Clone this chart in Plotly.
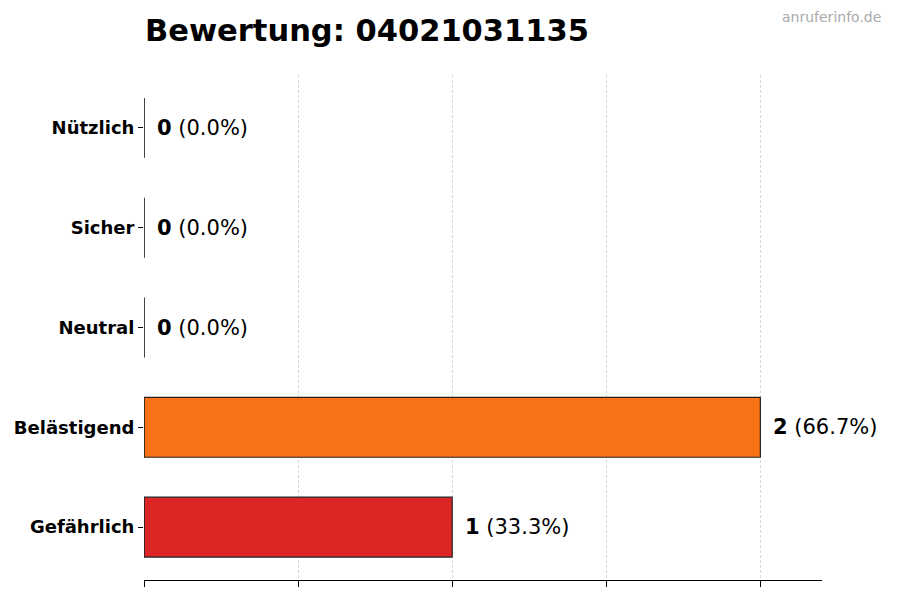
import plotly.graph_objects as go

# Daten
kategorien = ["Gefährlich", "Belästigend", "Neutral", "Sicher", "Nützlich"]
werte = [1, 2, 0, 0, 0]
farben = ["#DC2626", "#F97316", "#6B7280", "#22C55E", "#3B82F6"]
titel = "Bewertung: 04021031135"
quelle = "anruferinfo.de"

gesamt = sum(werte)
prozente = [w / gesamt * 100 if gesamt else 0 for w in werte]
bar_breite = 0.6

fig = go.Figure()

fig.add_trace(go.Bar(
    y=list(range(len(kategorien))),
    x=werte,
    orientation="h",
    width=bar_breite,
    marker=dict(color=farben, line=dict(color="#222222", width=1.2)),
    hoverinfo="skip",
    showlegend=False,
))

# linke Kante der Balken (auch bei Wert 0 sichtbar)
for i, w in enumerate(werte):
    fig.add_trace(go.Scatter(
        x=[0, 0], y=[i - bar_breite / 2, i + bar_breite / 2],
        mode="lines", line=dict(color="#222222", width=1.2),
        hoverinfo="skip", showlegend=False,
    ))

# Beschriftungen
for i, (w, p) in enumerate(zip(werte, prozente)):
    fig.add_annotation(
        x=w, y=i, xref="x", yref="y",
        text=f"<b>{w}</b> ({p:.1f}%)",
        showarrow=False, xanchor="left", xshift=11,
        font=dict(size=21, color="black", family="DejaVu Sans"),
    )

# Wasserzeichen oben rechts
fig.add_annotation(
    x=1 + 61 / 677, y=1 + 58 / 505, xref="paper", yref="paper", text=quelle,
    showarrow=False, xanchor="right", yanchor="middle",
    font=dict(size=14, color="#AAAAAA", family="DejaVu Sans"),
)

fig.update_layout(
    width=900, height=600,
    margin=dict(l=144, r=78, t=75, b=20),
    plot_bgcolor="white", paper_bgcolor="white",
    font=dict(family="DejaVu Sans", color="black"),
    title=dict(text=f"<b>{titel}</b>", x=145 / 900, xanchor="left",
               y=1 - 30 / 600, yanchor="middle",
               font=dict(size=30.5, family="DejaVu Sans", color="black")),
    xaxis=dict(range=[0, 2.2], tickvals=[0, 0.5, 1, 1.5, 2], showticklabels=False,
               ticks="outside", ticklen=6, tickcolor="black",
               showline=True, linecolor="black", linewidth=1,
               showgrid=True, gridcolor="#D8D8D8", griddash="3px,2px", gridwidth=1,
               zeroline=False),
    yaxis=dict(range=[-0.53, 4.53], tickvals=list(range(len(kategorien))),
               ticktext=[f"<b>{k}</b>" for k in kategorien],
               ticks="outside", ticklen=5, tickcolor="black",
               ticklabelstandoff=0,
               tickfont=dict(size=18, family="DejaVu Sans", color="black"),
               showline=False, showgrid=False, zeroline=False),
)

fig.write_html("out.html", config={"displayModeBar": False},
               post_script="document.body.style.margin='0';")
